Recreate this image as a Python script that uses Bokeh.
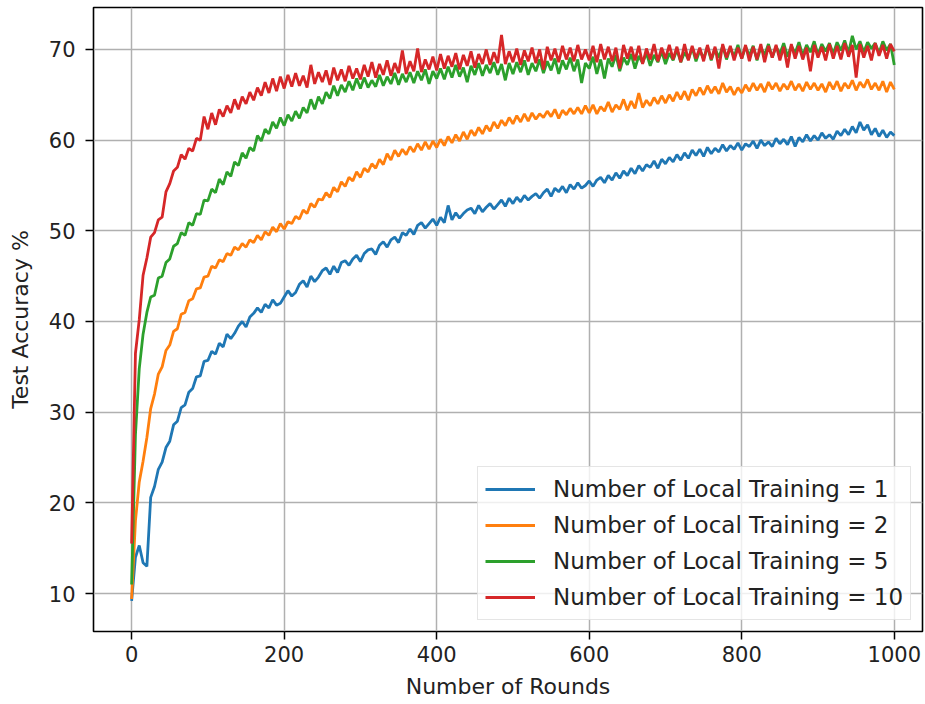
from bokeh.plotting import figure
from bokeh.models import Range1d, FixedTicker, Legend, LegendItem
from bokeh.embed import file_html
from bokeh.resources import INLINE

# x sampling: every 5 rounds
rounds = list(range(0, 1001, 5))

acc_e1 = [
    9.2, 14.0, 15.3, 13.4, 13.0, 20.6, 21.8, 23.7, 24.5, 26.1,
    26.8, 28.6, 29.0, 30.5, 30.8, 32.2, 32.6, 33.9, 34.0, 35.6,
    35.7, 36.7, 36.4, 37.6, 37.2, 38.6, 38.1, 38.7, 39.5, 40.0,
    39.4, 40.5, 40.9, 41.5, 41.0, 41.9, 41.5, 42.4, 41.8, 42.0,
    42.7, 43.4, 42.8, 43.2, 44.1, 44.5, 43.8, 45.0, 44.4, 44.9,
    45.6, 45.9, 45.2, 46.1, 45.4, 46.5, 46.7, 46.2, 46.9, 47.3,
    46.6, 47.5, 47.9, 48.0, 47.4, 48.4, 48.8, 48.2, 49.0, 49.3,
    48.7, 49.8, 49.5, 50.2, 49.6, 50.6, 50.9, 50.3, 50.8, 51.3,
    50.6, 51.5, 50.9, 52.8, 51.2, 52.0, 51.4, 51.9, 52.3, 52.5,
    51.9, 52.8, 52.1, 52.6, 53.0, 52.4, 52.9, 53.4, 52.7, 53.6,
    53.0, 53.7, 53.2, 53.9, 53.4, 53.8, 54.1, 53.6, 54.2, 54.6,
    53.8, 54.7, 54.3, 54.9, 54.2, 55.1, 54.6, 55.3, 54.7, 55.0,
    55.5, 54.9, 55.6, 55.9, 55.3, 56.1, 55.6, 56.4, 55.8, 56.6,
    56.1, 56.9, 56.3, 57.2, 56.6, 57.3, 57.0, 57.7, 56.9, 57.9,
    57.4, 58.1, 57.6, 58.4, 57.8, 58.6, 58.0, 58.9, 58.3, 59.0,
    58.2, 59.2, 58.5, 59.1, 58.7, 59.5, 58.8, 59.4, 59.0, 59.7,
    58.9, 59.6, 59.3, 59.9, 59.1, 60.0, 59.4, 59.8, 59.3, 60.2,
    59.6, 60.1, 59.5, 60.4, 59.3, 60.3, 59.8, 60.6, 59.9, 60.5,
    60.0, 60.8, 60.2, 60.6, 60.1, 61.0, 60.5, 61.2, 60.6, 61.5,
    60.8, 62.0, 61.1, 61.7, 60.6, 61.3, 60.4, 61.1, 60.3, 60.9,
    60.5,
]

acc_e2 = [
    9.4, 18.0, 22.3, 24.6, 27.2, 30.4, 32.0, 34.2, 35.0, 36.8,
    37.4, 38.9, 39.2, 40.8, 41.0, 42.3, 42.5, 43.6, 43.7, 44.9,
    45.0, 46.1, 45.9, 46.8, 46.6, 47.5, 47.3, 48.2, 47.9, 48.6,
    48.2, 49.0, 48.7, 49.5, 49.0, 49.9, 49.5, 50.4, 49.9, 50.8,
    50.2, 51.0, 50.8, 51.6, 51.3, 52.3, 51.9, 53.0, 52.6, 53.5,
    53.4, 54.2, 53.7, 54.8, 54.3, 55.4, 54.9, 55.9, 55.5, 56.5,
    55.9, 56.9, 56.5, 57.4, 56.9, 57.9, 57.3, 58.5, 57.8, 58.9,
    58.2, 59.0, 58.4, 59.3, 58.7, 59.6, 58.9, 59.8, 59.0, 59.9,
    59.2, 60.1, 59.4, 60.4, 59.7, 60.6, 59.9, 60.9, 60.1, 61.1,
    60.5, 61.4, 60.7, 61.6, 61.0, 62.0, 61.3, 62.2, 61.6, 62.5,
    61.8, 62.7, 62.0, 62.9, 62.1, 63.0, 62.3, 62.9, 62.5, 63.2,
    62.6, 63.4, 62.4, 63.3, 62.8, 63.5, 62.9, 63.6, 62.9, 63.8,
    63.0, 63.9, 62.9, 63.7, 63.2, 64.2, 63.1, 63.9, 63.4, 64.5,
    63.3, 64.3, 63.5, 65.2, 63.6, 64.4, 63.8, 64.7, 64.0, 64.9,
    64.1, 65.0, 64.3, 65.3, 64.5, 65.4, 64.4, 65.6, 64.9, 65.8,
    65.0, 66.0, 65.2, 65.9, 65.1, 66.3, 65.3, 65.9, 65.0, 65.8,
    65.2, 66.1, 65.4, 66.3, 65.5, 66.2, 65.3, 66.4, 65.6, 66.3,
    65.4, 66.2, 65.6, 66.5, 65.5, 66.2, 65.4, 66.4, 65.6, 66.3,
    65.5, 66.2, 65.3, 66.4, 65.6, 66.5, 65.4, 66.3, 65.7, 66.6,
    65.5, 66.4, 65.8, 66.7, 65.6, 66.3, 65.5, 66.5, 65.3, 66.4,
    65.6,
]

acc_e5 = [
    11.0, 27.5, 34.8, 38.6, 41.0, 42.7, 42.9, 44.8, 45.0, 46.5,
    46.9, 48.3, 48.6, 49.8, 49.5, 50.9, 50.6, 51.9, 51.8, 53.4,
    53.3, 54.6, 54.2, 55.7, 55.1, 56.5, 56.0, 57.6, 57.2, 58.6,
    58.0, 59.2, 58.8, 60.5, 59.9, 61.2, 60.7, 62.0, 61.3, 62.5,
    61.6, 62.8, 62.1, 63.2, 62.4, 63.6, 63.0, 64.5, 63.4, 64.8,
    64.0, 65.3, 64.6, 66.0, 64.9, 66.1, 65.3, 66.5, 65.5, 66.8,
    65.7, 66.9, 65.8, 66.6, 65.9, 67.2, 66.0, 67.0, 66.2, 67.4,
    66.1, 67.3, 66.4, 67.5, 66.3, 67.6, 66.6, 67.8, 66.2, 67.6,
    66.8, 67.9, 66.7, 68.1, 66.9, 68.3, 67.0, 68.0, 66.4, 68.2,
    67.2, 68.5, 67.1, 68.3, 67.4, 68.6, 67.2, 68.4, 66.6, 68.5,
    67.3, 68.6, 67.5, 68.8, 67.2, 68.5, 67.6, 68.9, 67.4, 68.7,
    67.7, 69.0, 67.3, 68.8, 67.8, 69.1, 67.6, 68.9, 66.3, 68.5,
    67.9, 69.2, 67.3, 68.9, 66.8, 69.0, 68.1, 69.4, 67.6, 69.1,
    68.3, 69.5, 67.9, 69.3, 68.5, 69.6, 68.2, 69.4, 68.6, 69.8,
    68.4, 69.6, 68.8, 70.0, 68.6, 69.7, 68.9, 70.2, 68.7, 69.9,
    69.0, 70.3, 68.8, 70.1, 69.1, 70.4, 68.9, 70.2, 69.2, 70.5,
    69.0, 70.3, 69.3, 70.4, 68.8, 70.2, 69.4, 70.6, 69.1, 70.3,
    69.5, 70.7, 69.2, 70.4, 69.6, 70.8, 69.3, 70.5, 69.7, 70.9,
    69.4, 70.6, 69.8, 70.7, 69.5, 70.8, 69.9, 71.0, 69.6, 71.5,
    70.0, 70.9, 69.7, 70.8, 70.1, 70.7, 69.6, 70.9, 69.9, 70.6,
    68.3,
]

acc_e10 = [
    15.5, 36.5, 40.2, 45.1, 47.0, 49.3, 49.8, 51.2, 51.5, 54.3,
    55.2, 56.6, 57.0, 58.4, 57.9, 59.1, 58.8, 60.2, 60.0, 62.6,
    61.2, 63.0, 61.7, 63.4, 62.6, 63.8, 63.0, 64.5, 63.4, 64.8,
    64.0, 65.3, 64.4, 65.8, 64.9, 66.4, 65.2, 66.8, 65.4, 67.0,
    65.7, 67.2, 65.9, 67.4, 66.0, 67.1, 65.8, 68.3, 66.2, 67.5,
    66.4, 67.7, 66.1, 68.0, 66.6, 67.8, 66.5, 68.2, 66.8, 67.9,
    66.7, 68.3, 67.0, 68.6, 66.9, 68.4, 67.2, 68.8, 67.1, 68.5,
    67.4, 69.9, 67.3, 68.7, 67.6, 70.1, 67.5, 68.9, 67.8, 69.2,
    67.7, 69.5, 67.9, 69.3, 68.1, 69.6, 67.8, 69.4, 68.2, 69.8,
    68.0, 69.5, 68.4, 70.0, 68.3, 69.7, 68.5, 71.6, 68.4, 69.8,
    68.6, 70.1, 68.3, 69.9, 68.7, 70.2, 68.5, 70.0, 67.8, 70.3,
    68.8, 70.1, 68.6, 70.4, 68.9, 70.2, 68.7, 70.5, 68.9, 70.0,
    68.8, 70.4, 68.6, 70.6, 68.9, 70.3, 68.7, 70.2, 67.9, 70.5,
    69.0, 70.3, 68.8, 70.4, 68.4, 70.1, 68.9, 70.6, 68.7, 70.2,
    69.0, 70.5, 68.9, 70.3, 68.6, 70.6, 68.8, 70.4, 69.0, 70.2,
    68.7, 70.5, 68.9, 70.3, 67.9, 70.6, 69.1, 70.4, 68.8, 70.2,
    69.0, 70.5, 68.7, 70.3, 68.9, 70.6, 68.6, 70.4, 69.1, 70.5,
    68.8, 70.3, 68.0, 70.6, 69.0, 70.4, 68.9, 70.2, 67.6, 70.5,
    69.1, 70.3, 68.8, 70.6, 69.0, 70.4, 68.9, 70.7, 69.2, 70.5,
    66.9, 70.6, 69.1, 70.4, 68.8, 70.7, 69.3, 70.5, 69.0, 70.6,
    69.8,
]

series_labels = [
    "Number of Local Training = 1",
    "Number of Local Training = 2",
    "Number of Local Training = 5",
    "Number of Local Training = 10",
]
series_colors = ["#1f77b4", "#ff7f0e", "#2ca02c", "#d62728"]
x_ticks = [0, 200, 400, 600, 800, 1000]
y_ticks = [10, 20, 30, 40, 50, 60, 70]

FONT = "DejaVu Sans"

p = figure(
    width=925, height=704,
    output_backend="svg", toolbar_location=None,
    x_range=Range1d(-50, 1037), y_range=Range1d(5.81, 74.63),
    min_border_left=93, min_border_right=3, min_border_top=7, min_border_bottom=73,
)
p.background_fill_color = "white"
p.border_fill_color = "white"
p.outline_line_color = "black"
p.outline_line_width = 1.6

renderers = []
for ys, col in zip([acc_e1, acc_e2, acc_e5, acc_e10], series_colors):
    r = p.line(rounds, ys, line_color=col, line_width=2.8)
    renderers.append(r)

p.xaxis.ticker = FixedTicker(ticks=x_ticks)
p.yaxis.ticker = FixedTicker(ticks=y_ticks)
for ax in (p.xaxis[0], p.yaxis[0]):
    ax.axis_line_color = None
    ax.minor_tick_line_color = None
    ax.major_tick_line_color = "black"
    ax.major_tick_line_width = 1.5
    ax.major_tick_out = 8
    ax.major_tick_in = 0
    ax.major_label_text_font = FONT
    ax.major_label_text_font_size = "21px"
    ax.major_label_text_color = "#222222"
    ax.axis_label_text_font = FONT
    ax.axis_label_text_font_size = "22px"
    ax.axis_label_text_font_style = "normal"
    ax.axis_label_text_color = "#222222"

p.xaxis.axis_label = "Number of Rounds"
p.yaxis.axis_label = "Test Accuracy %"
p.xaxis.major_label_standoff = 6
p.yaxis.major_label_standoff = 10
p.xaxis.axis_label_standoff = 9
p.yaxis.axis_label_standoff = 13

p.xgrid.ticker = FixedTicker(ticks=x_ticks)
p.ygrid.ticker = FixedTicker(ticks=y_ticks)
p.grid.grid_line_color = "#b0b0b0"
p.grid.grid_line_width = 1.5

items = [LegendItem(label=lab, renderers=[r]) for lab, r in zip(series_labels, renderers)]
legend = Legend(items=items, location=(384, 11), margin=0)
legend.label_text_font = FONT
legend.label_text_font_size = "23px"
legend.label_text_color = "#222222"
legend.glyph_width = 50
legend.glyph_height = 30
legend.label_height = 30
legend.label_standoff = 18
legend.spacing = 6
legend.padding = 7
legend.border_line_color = "#cccccc"
legend.border_line_width = 1.3
legend.background_fill_color = "white"
legend.background_fill_alpha = 0.8
p.add_layout(legend, "center")

open("out.html", "w").write(file_html(p, INLINE))
